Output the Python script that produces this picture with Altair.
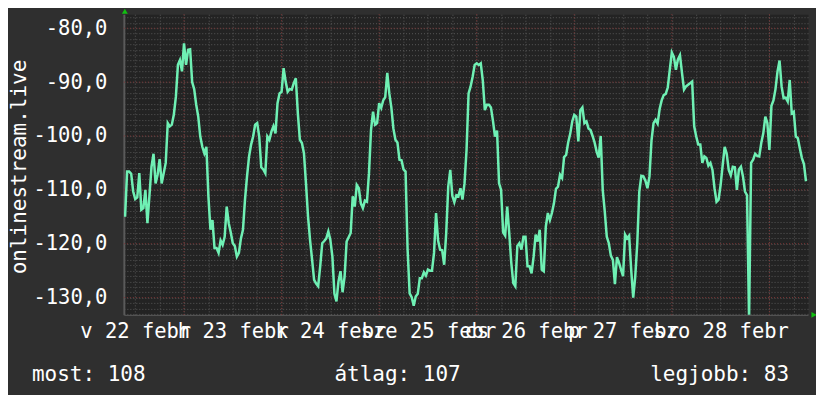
import altair as alt
import pandas as pd

# ---- data ----
start_hour = 9.5          # hours since 2015-02-22 00:00
step_hours = 0.5
values = [
    -115.0,
    -106.6, -106.6, -107.0, -110.3, -111.7, -111.4, -106.9, -113.7, -113.4, -110.0,
    -116.2, -111.0, -105.7, -103.3, -108.8, -107.2, -104.3, -108.8, -106.9, -105.0,
    -97.6, -98.2, -97.9, -96.0, -92.7, -86.8, -85.9, -88.0, -82.8, -86.8,
    -84.0, -83.9, -90.0, -91.3, -94.2, -96.4, -100.1, -102.0, -103.2, -102.0,
    -111.2, -117.4, -115.6, -120.8, -120.8, -121.7, -119.4, -120.2, -118.7, -113.1,
    -116.2, -117.9, -119.9, -120.4, -122.4, -121.7, -119.0, -117.4, -111.8, -107.5,
    -103.8, -101.6, -100.1, -97.9, -97.6, -100.1, -105.8, -106.2, -106.9, -100.1,
    -100.7, -99.2, -98.2, -99.5, -93.9, -92.1, -91.8, -87.4, -89.9, -91.8,
    -91.3, -91.4, -90.2, -89.3, -95.8, -100.7, -101.3, -103.2, -108.8, -114.9,
    -119.3, -122.9, -126.7, -127.4, -127.9, -124.2, -119.9, -119.5, -119.0, -117.7,
    -119.3, -122.4, -129.3, -130.7, -127.0, -125.1, -129.0, -126.1, -119.6, -118.8,
    -118.0, -111.2, -113.1, -109.1, -109.7, -112.5, -113.4, -112.0, -112.2, -106.9,
    -98.9, -95.5, -97.9, -97.6, -93.9, -94.8, -93.4, -92.8, -88.3, -92.1,
    -94.7, -98.6, -100.7, -101.2, -104.4, -104.5, -106.2, -106.6, -121.1, -129.2,
    -129.9, -131.5, -129.8, -129.3, -126.4, -126.4, -125.3, -125.9, -124.8, -125.0,
    -125.0, -121.7, -114.3, -119.4, -121.1, -121.2, -123.9, -118.0, -109.4, -106.3,
    -111.1, -112.3, -111.0, -111.2, -109.7, -111.8, -108.8, -102.6, -92.1, -90.8,
    -89.0, -86.8, -86.5, -86.8, -86.5, -89.7, -95.2, -94.2, -94.2, -94.7,
    -97.2, -100.1, -99.0, -108.8, -110.0, -117.9, -118.5, -113.1, -118.0, -123.5,
    -127.3, -127.9, -120.4, -119.9, -121.1, -118.7, -118.7, -124.2, -124.2, -125.5,
    -122.4, -118.3, -119.6, -117.4, -124.8, -125.1, -116.8, -114.3, -115.6, -114.3,
    -112.5, -109.8, -109.4, -107.2, -107.8, -103.9, -103.5, -101.2, -99.6, -97.3,
    -96.1, -96.4, -101.0, -95.2, -94.7, -97.6, -97.3, -98.6, -98.9, -100.0,
    -101.2, -102.9, -104.0, -100.0, -110.0, -114.0, -118.7, -119.9, -122.2, -123.0,
    -127.5, -122.5, -123.5, -124.8, -126.0, -118.3, -119.0, -118.5, -124.8, -130.0,
    -126.1, -119.9, -110.3, -107.4, -107.5, -108.3, -109.7, -107.5, -100.8, -97.6,
    -97.0, -97.7, -95.0, -93.4, -92.4, -92.2, -91.0, -87.7, -84.5, -85.3,
    -87.7, -85.8, -85.0, -88.3, -91.4, -90.8, -90.5, -90.2, -89.9, -98.2,
    -100.1, -101.6, -101.6, -105.0, -103.8, -104.1, -105.5, -105.0, -106.3, -109.7,
    -112.2, -111.8, -109.1, -105.5, -102.0, -103.3, -106.3, -107.3, -105.7, -105.8,
    -110.0, -106.2, -105.7, -107.5, -110.3, -111.0, -134.0, -105.0, -104.4, -103.3,
    -103.7, -103.8, -101.3, -99.5, -96.4, -97.6, -102.6, -94.4, -93.4, -91.3,
    -88.0, -86.0, -90.8, -93.0, -92.9, -93.6, -89.6, -95.8, -95.5, -100.1,
    -100.4, -102.3, -104.1, -105.2, -108.4,
]
hours = [start_hour + step_hours * i for i in range(len(values))]

day_hours = [12, 36, 60, 84, 108, 132, 156]
day_labels = ["v 22 febr", "h 23 febr", "k 24 febr", "sze 25 febr",
              "cs 26 febr", "p 27 febr", "szo 28 febr"]
minor_x = list(range(12, 177, 6))
major_x = [24, 48, 72, 96, 120, 144, 168]
minor_y = list(range(-133, -77))
major_y = [-80, -90, -100, -110, -120, -130]
y_title = "onlinestream.live"
stat_names = ["most", "átlag", "legjobb"]
stat_values = [108, 107, 83]

X_DOMAIN = [9.2, 177.5]
Y_DOMAIN = [-133.2, -77.4]

# ---- styling ----
FONT = "DejaVu Sans Mono"
BG = "#2f2f2f"
PLOT_BG = "#232323"
MINOR = "#575757"
MAJOR = "#803636"
LINE = "#6ff0b4"
ARROW = "#10c010"
W, H = 685, 301

df = pd.DataFrame({"h": hours, "v": values})

label_expr = "".join(f"datum.value == {h} ? '{t}' : " for h, t in zip(day_hours, day_labels)) + "''"
y_label_expr = "datum.value % 10 == 0 ? '-' + replace(format(abs(datum.value), '.1f'), '.', ',') : ''"

xscale = alt.Scale(domain=X_DOMAIN, nice=False, zero=False)
yscale = alt.Scale(domain=Y_DOMAIN, nice=False, zero=False)

x_axis = alt.Axis(values=minor_x, grid=True, gridColor=MINOR, gridDash=[1, 2], gridWidth=1,
                  ticks=False, domain=True, domainColor="#5a5a5a", domainWidth=1,
                  labelExpr=label_expr, labelOverlap=False, labelFlush=False,
                  labelColor="#ffffff", labelFont=FONT, labelFontSize=20.5,
                  labelBaseline="alphabetic", labelAlign="center", labelPadding=23,
                  title=None)
y_axis = alt.Axis(values=minor_y, grid=True, gridColor=MINOR, gridDash=[1, 2], gridWidth=1,
                  ticks=False, domain=True, domainColor="#5a5a5a", domainWidth=2,
                  labelExpr=y_label_expr, labelOverlap=False, labelFlush=False,
                  labelColor="#ffffff", labelFont=FONT, labelFontSize=20.5,
                  labelPadding=17, labelBaseline="middle",
                  title=y_title, titleFont=FONT, titleFontSize=21, titleFontWeight="normal",
                  titleColor="#ffffff", titleAngle=270, titleX=-98, titleY=152.5,
                  titleAlign="center", titleBaseline="alphabetic")

X = alt.X("h:Q", scale=xscale, axis=x_axis)
Y = alt.Y("v:Q", scale=yscale, axis=y_axis)

vrules = alt.Chart(pd.DataFrame({"h": major_x})).mark_rule(
    color=MAJOR, strokeDash=[1, 2], strokeWidth=1).encode(x=X)

hrules = alt.Chart(pd.DataFrame({"v": major_y})).mark_rule(
    color=MAJOR, strokeDash=[1, 2], strokeWidth=1).encode(y=Y)

line = alt.Chart(df).mark_line(color=LINE, strokeWidth=2.5, clip=True).encode(x=X, y=Y)

one = alt.Data(values=[{"k": 0}])
arrow_up = alt.Chart(one).mark_point(shape="triangle-up", filled=True, size=35,
                                     color=ARROW, opacity=1).encode(
    x=alt.value(1), y=alt.value(-3))
arrow_right = alt.Chart(one).mark_point(shape="triangle-right", filled=True, size=35,
                                        color=ARROW, opacity=1).encode(
    x=alt.value(691), y=alt.value(H))

def stat_text(i, xpos, align):
    return alt.Chart(one).mark_text(font=FONT, fontSize=21, color="#ffffff",
                                    align=align, baseline="alphabetic").encode(
        x=alt.value(xpos), y=alt.value(367),
        text=alt.value(f"{stat_names[i]}: {stat_values[i]}"))

chart = alt.layer(
    vrules, hrules, line,
    arrow_up, arrow_right,
    stat_text(0, -92, "left"), stat_text(1, 274, "center"), stat_text(2, 666, "right"),
).properties(
    width=W, height=H,
    autosize=alt.AutoSizeParams(type="none"),
    padding={"left": 116, "top": 6, "right": 8, "bottom": 80},
    background=BG,
    usermeta={"embedOptions": {"defaultStyle": "body{background:#2f2f2f;}"}},
).configure_view(fill=PLOT_BG, stroke="transparent")

chart.save("out.html", embed_options={"renderer": "svg", "actions": False})
